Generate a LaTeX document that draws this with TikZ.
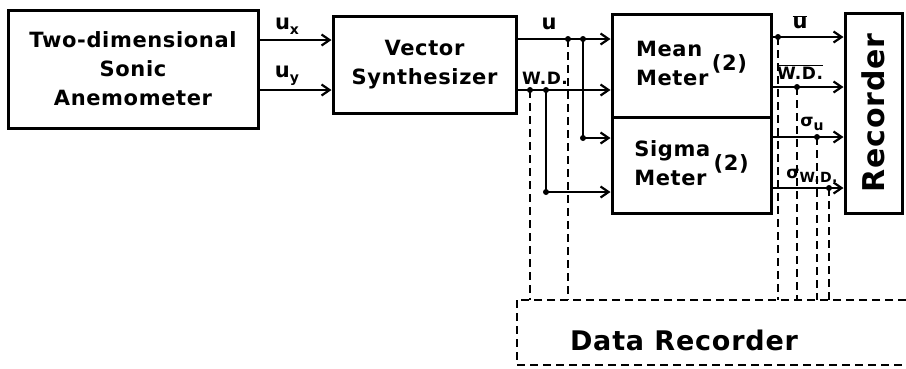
\documentclass[tikz,border=0pt]{standalone}
\usepackage{fontspec}
\setmainfont{DejaVu Sans}[LetterSpace=3]
\usetikzlibrary{arrows.meta, positioning}

\newcommand{\lsub}[1]{\raisebox{-0.25em}{\fontsize{14}{14}\selectfont #1}}

\begin{document}
\begin{tikzpicture}[x=1pt,y=-1pt,
    block/.style={draw, line width=3pt, inner sep=0pt, align=center, font=\fontsize{21}{29}\selectfont\bfseries},
    lbl/.style={inner sep=0pt, font=\fontsize{21}{21}\selectfont\bfseries},
    olbl/.style={inner sep=0pt, font=\fontsize{17}{17}\selectfont\bfseries},
    sig/.style={line width=2.4pt, -{Straight Barb[length=8pt,width=11pt,line width=2.2pt]}},
    wire/.style={line width=2.4pt},
    dwire/.style={line width=2.4pt, dash pattern=on 8pt off 5pt},
    dot/.style={circle, fill, inner sep=0pt, minimum size=6pt}]

    \useasboundingbox (0,0) rectangle (906,368);

    % blocks
    \node[block, minimum width=250pt, minimum height=118pt] (anem) at (133,69) {Two-dimensional\\Sonic\\Anemometer};
    \node[block, minimum width=183pt, minimum height=97pt] (synth) at (424.5,64.5) {Vector\\Synthesizer};
    \node[block, minimum width=159pt, minimum height=103pt] (mean) at (691.5,65.5)
        {\begin{tabular}{@{}l@{}}Mean\\Meter\end{tabular}\,(2)};
    \node[block, minimum width=159pt, minimum height=96pt] (sigma) at (691.5,165)
        {\begin{tabular}{@{}l@{}}Sigma\\Meter\end{tabular}\,(2)};
    \node[block, minimum width=57pt, minimum height=200pt] (rec) at (873.5,113)
        {\rotatebox{90}{\fontsize{30}{30}\selectfont Recorder}};

    % data recorder (open on the right)
    \node[minimum width=389pt, minimum height=65pt, inner sep=0pt] (data) at (711.5,332.5) {};
    \draw[dwire] (data.north east) -- (data.north west) -- (data.south west) -- (data.south east);
    \node[inner sep=0pt, font=\fontsize{27}{27}\selectfont\bfseries] (datalbl) at (684,340) {Data Recorder};

    % anemometer to synthesizer
    \coordinate (ux) at (0,40);
    \coordinate (uy) at (0,90);
    \draw[sig] (anem.east |- ux) -- (synth.west |- ux);
    \draw[sig] (anem.east |- uy) -- (synth.west |- uy);
    \node[lbl] (uxl) at (287,26) {u\lsub{x}};
    \node[lbl] (uyl) at (287,76) {u\lsub{y}};

    % synthesizer to meters
    \coordinate (rU) at (0,39);
    \coordinate (rW) at (0,90);
    \draw[sig] (synth.east |- rU) -- (mean.west |- rU);
    \draw[sig] (synth.east |- rW) -- (mean.west |- rW);
    \node[lbl] (ul) at (549,24) {u};
    \node[olbl] (wdl) at (545,78) {W.D.};

    \node[dot] (bU) at (583,39) {};
    \node[dot] (cU) at (583,138) {};
    \draw[wire] (bU.center) -- (cU.center);
    \draw[sig] (cU.center) -- (sigma.west |- cU);

    \node[dot] (bW) at (546,90) {};
    \node[dot] (cW) at (546,192) {};
    \draw[wire] (bW.center) -- (cW.center);
    \draw[sig] (cW.center) -- (sigma.west |- cW);

    % taps to data recorder
    \node[dot] (tU) at (568,39) {};
    \node[dot] (tW) at (530,90) {};
    \draw[dwire] (tU.center) -- (tU |- data.north);
    \draw[dwire] (tW.center) -- (tW |- data.north);

    % meters to recorder
    \foreach \src/\y/\tx/\n in {mean/37/778/1, mean/87/797/2, sigma/137/817/3, sigma/188/829/4} {
        \draw[sig] (\src.east |- 0,\y) -- (rec.west |- 0,\y);
        \node[dot] (t\n) at (\tx,\y) {};
        \draw[dwire] (t\n.center) -- (t\n |- data.north);
    }

    % output labels
    \node[lbl] (o1) at (800,22) {$\overline{\mbox{u}}$};
    \node[olbl] (o2) at (800,72) {$\overline{\mbox{W.D.}}$};
    \node[olbl] (o3) at (812,124) {σ\lsub{u}};
    \node[olbl] (o4) at (812,176) {σ\lsub{W.D.}};
\end{tikzpicture}
\end{document}
